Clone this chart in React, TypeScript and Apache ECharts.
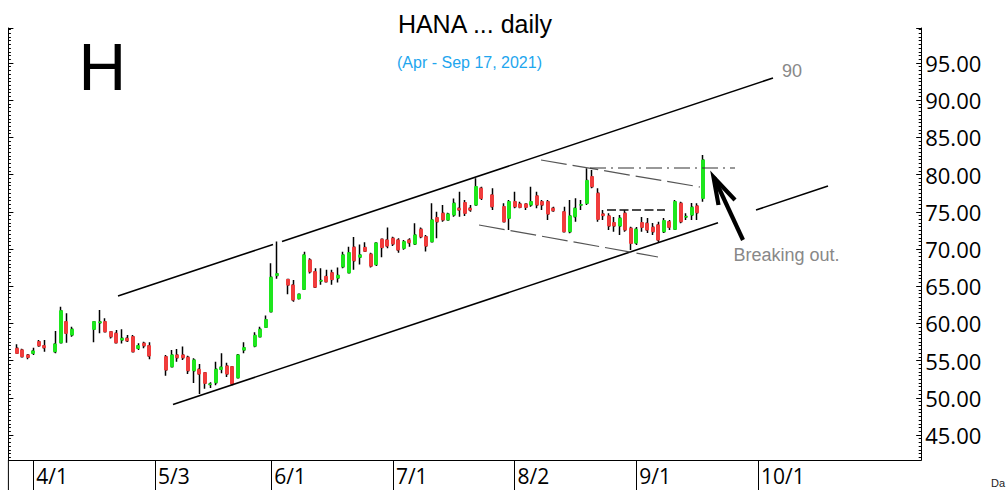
import React, { useEffect, useRef } from 'react';
import * as echarts from 'echarts';

// ---- data ----
const START_DATE = '2021-03-26';
const SLOT_COUNT = 165;
const monthTickLabels = ['4/1', '5/3', '6/1', '7/1', '8/2', '9/1', '10/1'];
const yMin = 41.64;
const yMax = 99.7;

const opens: (number | null)[] = [
  null, 56.65, 56.43, 55.75, 55.98, 57.54, 57.0, null, 56.2, 57.4,
  60.23, 58.44, null, null, null, 59.21, 60.1, 60.23, 58.88, 58.67,
  57.77, 57.99, 58.21, 56.65, 57.33, 57.0, null, null, 55.52, 54.18,
  55.75, 55.75, 55.44, 53.65, 53.82, 53.37, 51.8, 52.03, 53.82, 54.27,
  54.18, 52.7, 56.42, null, 56.95, 58.2, 59.47, 61.57, 66.45, null,
  65.9, 65.15, 63.33, 64.58, 68.52, 66.95, 65.7, 66.3, 66.8, 66.1,
  67.6, 66.8, 70.24, 68.9, 70.2, 69.3, 67.9, 71.3, 71.21, 71.44,
  71.21, 70.1, 71.21, 70.67, 72.65, 71.65, 70.98, 74.21, 74.8, 73.9,
  74.57, 75.47, 76.23, 75.47, 75.92, 78.16, null, 77.26, null, 75.69,
  74.13, 76.36, 76.05, 76.05, 75.92, 77.13, 76.36, 76.36, 75.47, null,
  75.0, 72.33, 74.34, 75.9, 76.14, 79.72, 77.49, 74.7, 74.44, 73.54,
  73.1, 74.8, 72.78, 70.8, 73.54, 73.45, 72.92, 73.23, 72.33, 73.67,
  72.65, 76.14, 74.3, 74.57, 75.78, 76.81,
];
const closes: (number | null)[] = [
  null, 55.98, 55.53, 55.44, 56.29, 57.0, 56.73, null, 57.23, 61.7,
  58.67, 59.21, null, null, null, 60.23, 60.2, 58.88, 58.21, 57.4,
  57.99, 57.67, 56.2, 57.0, 57.0, 55.62, null, null, 53.74, 55.75,
  55.39, 55.39, 53.65, 55.08, 53.2, 51.95, 51.85, 53.82, 54.12, 53.2,
  51.85, 55.75, 56.73, null, 58.38, 59.2, 60.5, 66.2, 66.67, null,
  65.15, 63.15, 63.9, 69.2, 66.95, 64.87, 65.75, 65.6, 65.9, 66.45,
  69.2, 69.5, 68.43, 69.2, 69.7, 67.7, 70.8, 70.2, 70.4, 70.67,
  69.87, 70.98, 70.85, 71.88, 71.65, 70.4, 73.9, 73.67, 73.9, 74.7,
  76.14, 75.24, 74.8, 75.24, 78.38, 76.81, null, 75.69, null, 73.67,
  76.36, 75.69, 75.6, 75.6, 76.36, 75.92, 75.92, 74.7, 75.15, null,
  72.33, 74.44, 75.47, 75.95, 79.19, 78.38, 73.99, 74.5, 73.1, 73.1,
  74.13, 72.56, 70.76, 72.65, 72.92, 72.56, 72.33, 71.21, 73.81, 72.92,
  76.36, 73.67, 74.35, 75.6, 74.88, 81.96,
];
const lows: (number | null)[] = [
  null, 55.89, 55.4, 55.17, 55.75, 56.87, 56.2, null, 55.98, 57.3,
  57.4, 58.21, null, null, null, 57.46, 58.67, 58.88, 57.98, 57.3,
  57.3, 57.5, 56.2, 56.42, 56.65, 55.17, null, null, 52.97, 54.1,
  54.85, 55.08, 53.2, 52.0, 50.51, 51.2, 51.3, 51.7, 53.3, 52.8,
  51.7, 52.6, 55.98, null, 56.8, 58.1, 59.47, 61.57, 66.0, null,
  63.9, 62.92, 63.2, 64.58, 66.7, 64.74, 65.2, 65.5, 65.2, 65.5,
  67.4, 66.8, 67.2, 67.9, 69.6, 67.5, 67.7, 68.9, 70.1, 70.4,
  69.5, 69.9, 70.3, 70.54, 71.44, 69.65, 70.98, 71.44, 73.67, 73.8,
  74.34, 74.34, 74.44, 75.0, 75.92, 76.59, null, 75.24, null, 73.67,
  72.56, 75.47, 75.47, 75.24, 75.69, 75.47, 75.24, 73.9, 75.0, null,
  72.2, 72.11, 73.67, 75.24, 75.92, 78.16, 73.67, 73.9, 72.56, 72.3,
  71.88, 72.33, 69.87, 70.54, 72.3, 72.15, 71.88, 70.85, 72.15, 72.56,
  72.56, 73.45, 73.9, 73.9, 73.9, 76.36,
];
const highs: (number | null)[] = [
  null, 57.19, 56.6, 55.89, 56.73, 57.77, 57.77, null, 58.98, 62.24,
  61.35, 59.56, null, null, null, 60.3, 61.8, 60.68, 58.95, 59.11,
  59.2, 58.43, 58.43, 57.33, 57.54, 57.46, null, null, 55.75, 56.42,
  56.56, 56.9, 55.66, 55.3, 54.54, 53.37, 52.1, 54.85, 56.0, 54.72,
  54.27, 55.9, 57.46, null, 58.8, 59.56, 61.05, 68.08, 71.0, null,
  65.9, 65.82, 63.9, 69.64, 68.75, 67.4, 67.4, 67.2, 67.2, 67.5,
  69.64, 70.3, 71.6, 70.6, 70.9, 69.5, 70.8, 71.3, 72.9, 71.65,
  71.44, 71.2, 71.44, 73.45, 72.9, 71.88, 76.14, 75.0, 75.92, 74.88,
  76.8, 77.7, 76.59, 75.92, 79.5, 78.38, null, 78.16, null, 76.14,
  76.59, 77.7, 76.36, 76.14, 78.38, 77.7, 76.59, 76.59, 75.69, null,
  75.69, 76.59, 76.81, 76.59, 80.85, 80.62, 78.16, 75.24, 74.8, 74.3,
  74.57, 75.24, 73.0, 72.96, 74.3, 74.17, 73.5, 73.67, 74.17, 73.9,
  76.59, 76.36, 74.8, 76.18, 76.14, 82.64,
];

// ---- helpers ----
function weekdayLabels(start: string, n: number): string[] {
  const out: string[] = [];
  const d = new Date(start + 'T00:00:00Z');
  while (out.length < n) {
    const wd = d.getUTCDay();
    if (wd !== 0 && wd !== 6) out.push(`${d.getUTCMonth() + 1}/${d.getUTCDate()}`);
    d.setUTCDate(d.getUTCDate() + 1);
  }
  return out;
}

const UP = '#1ee61e';
const DOWN = '#f03c3c';
const AXIS_FONT = '"Open Sans", "Liberation Sans", Arial, sans-serif';
const TEXT_FONT = '"Liberation Sans", Arial, sans-serif';

export default function App() {
  const ref = useRef<HTMLDivElement>(null);

  useEffect(() => {
    if (!ref.current) return;
    const chart = echarts.init(ref.current, undefined, { renderer: 'svg' });
    const categories = weekdayLabels(START_DATE, SLOT_COUNT);
    const tickIdx = new Set<number>();
    categories.forEach((c, i) => {
      if (monthTickLabels.includes(c)) tickIdx.add(i);
    });

    const wickData = opens.map((o, i) =>
      o == null ? '-' : [o, closes[i] as number, lows[i] as number, highs[i] as number]
    );
    const bodyData = opens.map((o, i) => {
      if (o == null) return '-';
      const c = closes[i] as number;
      return [o, c, Math.min(o, c), Math.max(o, c)];
    });

    const yAxisBase = {
      type: 'value',
      min: yMin,
      max: yMax,
      splitNumber: 12,
      splitLine: { show: false },
      axisLine: { show: true, lineStyle: { color: '#000', width: 1 } },
      axisTick: { show: true, inside: true, length: 5, lineStyle: { color: '#000' } },
      minorTick: { show: true, splitNumber: 10, length: 2.5, lineStyle: { color: '#000' } },
    };

    const line = (x1: number, y1: number, x2: number, y2: number, style: any) => ({
      type: 'line',
      shape: { x1, y1, x2, y2 },
      style: { stroke: '#000', lineWidth: 1.6, ...style },
      silent: true,
      z: 50,
    });

    const option: any = {
      animation: false,
      backgroundColor: '#fff',
      grid: { left: 8.4, right: 86.8, top: 28, bottom: 30, containLabel: false },
      xAxis: {
        type: 'category',
        data: categories,
        boundaryGap: true,
        axisLine: { show: true, onZero: false, lineStyle: { color: '#000', width: 1 } },
        axisTick: {
          show: true,
          alignWithLabel: true,
          length: 30,
          interval: (i: number) => tickIdx.has(i),
          lineStyle: { color: '#000', width: 1 },
        },
        axisLabel: {
          show: true,
          interval: (i: number) => tickIdx.has(i),
          align: 'left',
          verticalAlign: 'top',
          margin: 5,
          lineHeight: 21,
          padding: [0, 0, 0, 3],
          color: '#000',
          fontSize: 21,
          fontFamily: AXIS_FONT,
        },
        splitLine: { show: false },
      },
      yAxis: [
        {
          ...yAxisBase,
          position: 'right',
          axisLabel: {
            show: true,
            margin: 4,
            color: '#000',
            fontSize: 22,
            fontFamily: AXIS_FONT,
            showMinLabel: false,
            showMaxLabel: false,
            formatter: (v: number) =>
              Math.abs(v / 5 - Math.round(v / 5)) < 1e-6 ? v.toFixed(2) : '',
          },
        },
        {
          ...yAxisBase,
          position: 'left',
          axisLabel: { show: false },
        },
      ],
      series: [
        {
          name: 'wick',
          type: 'candlestick',
          data: wickData,
          barWidth: 1.5,
          itemStyle: {
            color: '#000',
            color0: '#000',
            borderColor: '#000',
            borderColor0: '#000',
            borderWidth: 1.5,
          },
        },
        {
          name: 'body',
          type: 'candlestick',
          data: bodyData,
          barWidth: 3.5,
          itemStyle: {
            color: UP,
            color0: DOWN,
            borderColor: UP,
            borderColor0: DOWN,
            borderWidth: 1,
          },
        },
      ],
      graphic: [
        // channel lines
        line(118, 296, 273, 244.4, {}),
        line(282, 241.5, 773, 78, {}),
        line(173, 404.5, 718, 222.7, {}),
        line(756, 210, 828, 186, {}),
        // thin flag lines
        line(541, 160, 700, 187, { stroke: '#555', lineWidth: 1.2, lineDash: [26, 6] }),
        line(479, 225, 658, 257, { stroke: '#555', lineWidth: 1.2, lineDash: [26, 6] }),
        line(590, 168, 735, 168, { stroke: '#333', lineWidth: 1.2, lineDash: [16, 5, 2, 5] }),
        line(607, 210, 665, 210, { stroke: '#111', lineWidth: 1.5, lineDash: [9, 3.5] }),
        // arrow
        line(743, 240, 714, 177.5, { lineWidth: 4.2 }),
        {
          type: 'polyline',
          shape: { points: [[718.5, 205], [713.5, 177], [735, 200]] },
          style: { stroke: '#000', lineWidth: 4.2, fill: null },
          silent: true,
          z: 50,
        },
        // left axis extension below the plot
        line(8.4, 460, 8.4, 490, { lineWidth: 1 }),
        // texts
        {
          type: 'text', x: 475, y: 24, z: 60,
          style: { text: 'HANA ... daily', font: `25px ${TEXT_FONT}`, fill: '#000', align: 'center', verticalAlign: 'middle' },
        },
        {
          type: 'text', x: 469.5, y: 62, z: 60,
          style: { text: '(Apr - Sep 17, 2021)', font: `16px ${TEXT_FONT}`, fill: '#1ea6ee', align: 'center', verticalAlign: 'middle' },
        },
        {
          type: 'text', x: 78.5, y: 66.5, z: 60,
          style: { text: 'H', font: `66px ${TEXT_FONT}`, fill: '#000', align: 'left', verticalAlign: 'middle' },
        },
        {
          type: 'text', x: 782, y: 70.5, z: 60,
          style: { text: '90', font: `18px ${TEXT_FONT}`, fill: '#888', align: 'left', verticalAlign: 'middle' },
        },
        {
          type: 'text', x: 733.5, y: 254.5, z: 60,
          style: { text: 'Breaking out.', font: `18px ${TEXT_FONT}`, fill: '#888', align: 'left', verticalAlign: 'middle' },
        },
        {
          type: 'text', x: 991, y: 483, z: 60,
          style: { text: 'Da', font: `11px ${TEXT_FONT}`, fill: '#222', align: 'left', verticalAlign: 'middle' },
        },
      ],
    };

    chart.setOption(option);
    return () => chart.dispose();
  }, []);

  return (
    <div
      ref={ref}
      style={{ position: 'absolute', left: 0, top: 0, width: '1008px', height: '490px', background: '#fff' }}
    />
  );
}
